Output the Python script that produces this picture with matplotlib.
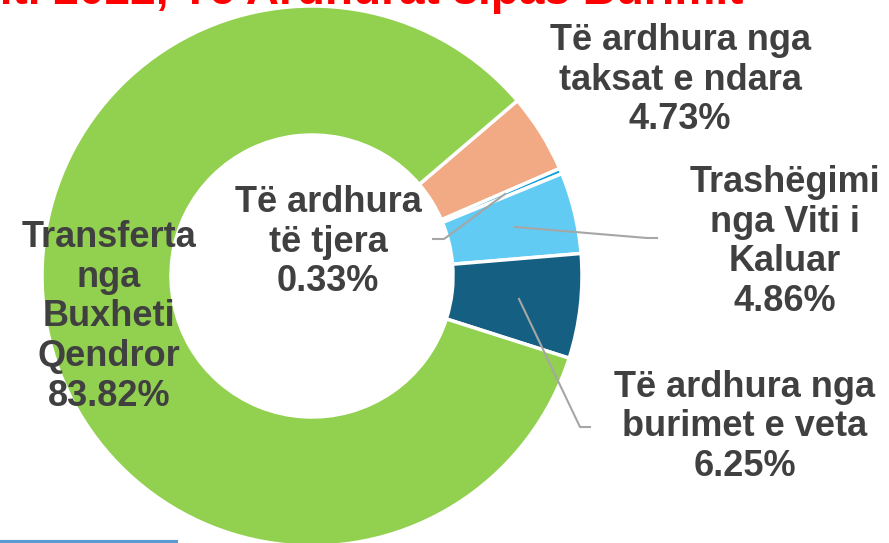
import matplotlib.pyplot as plt

# shares of revenue, clockwise from the green/orange border
categories = [
    "Të ardhura nga\ntaksat e ndara",
    "Të ardhura\ntë tjera",
    "Trashëgimi\nnga Viti i\nKaluar",
    "Të ardhura nga\nburimet e veta",
    "Transferta\nnga\nBuxheti\nQendror",
]
shares = [4.73, 0.33, 4.86, 6.25, 83.82]
colors = ["#F2AA84", "#0F9ED5", "#61CBF3", "#156082", "#92D050"]
title = "Viti 2022, Të Ardhurat sipas Burimit"

W, H = 889, 543
fig = plt.figure(figsize=(W / 100, H / 100), dpi=100)
ax = fig.add_axes([0, 0, 1, 1])

cx, cy, r_out, ring = 312, H - 276, 270, 129
wedges, _ = ax.pie(shares, colors=colors, startangle=40.5, counterclock=False,
                   center=(cx, cy), radius=r_out, frame=True,
                   wedgeprops=dict(width=ring, edgecolor="white", linewidth=2.5))
ax.set_xlim(0, W)
ax.set_ylim(0, H)
ax.set_aspect("equal")
ax.axis("off")

txt = dict(ha="center", va="center", fontsize=26, fontweight="bold",
           color="#404040", family=["Liberation Sans", "DejaVu Sans"], linespacing=1.18)

# label positions in pixels (x, y from top)
label_pos = [(680, 80), (328, 242), (785, 242), (745, 427), (109, 317)]
for name, val, (lx, ly) in zip(categories, shares, label_pos):
    ax.text(lx, H - ly, f"{name}\n{val:.2f}%", **txt)

# leader lines
grey = "#A6A6A6"
leaders = [
    [(433, 239), (444, 239), (505, 194)],
    [(515, 227), (647, 238), (657, 238)],
    [(519, 299), (580, 427), (590, 427)],
]
for pts in leaders:
    ax.plot([p[0] for p in pts], [H - p[1] for p in pts], color=grey, lw=1.5)

# title, mostly cut off at the top of the crop
ax.text(743, H - 4, title, ha="right", va="baseline", fontsize=33,
        fontweight="bold", color="#FF0000", family=["Liberation Sans", "DejaVu Sans"],
        clip_on=False)

ax.plot([0, 178], [1.5, 1.5], color="#5B9BD5", lw=3, solid_capstyle="butt")

fig.savefig("out.png", dpi=100)
